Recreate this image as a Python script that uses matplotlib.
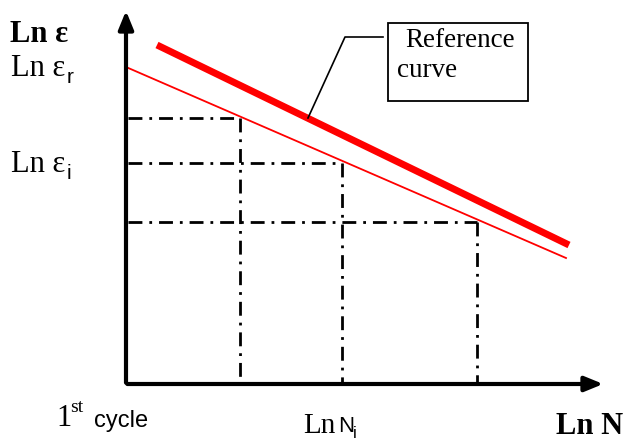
import matplotlib.pyplot as plt

# coordinates measured from the axis origin (x right, y up)
thin_x = [0, 440]
thin_y = [317, 126]
thick_x = [31, 443]
thick_y = [339, 139]

# levels read on the thin curve
level_x = [114, 216, 351]
level_y = [266, 221, 162]

x_end = 480
y_end = 376

fig = plt.figure(figsize=(6.28, 4.43), dpi=100)
ax = fig.add_axes([0, 0, 1, 1])
ax.set_xlim(-126, 502)
ax.set_ylim(-59, 384)
ax.axis("off")

serif = "Liberation Serif"
sans = "Liberation Sans"

# axes with arrows
head = "-|>,head_length=1.1,head_width=0.45"
ax.annotate("", xy=(x_end, 0), xytext=(-1.5, 0),
            arrowprops=dict(arrowstyle=head, lw=3, color="black"))
ax.annotate("", xy=(0, y_end), xytext=(0, -1.5),
            arrowprops=dict(arrowstyle=head, lw=3, color="black"))

# dash-dot guides
for lx, ly in zip(level_x, level_y):
    ax.plot([2, lx], [ly, ly], color="black", lw=2, linestyle=(0, (5, 2.5, 1, 2.5)))
    ax.plot([lx, lx], [ly, 2], color="black", lw=2, linestyle=(0, (5, 2.5, 1, 2.5)))

ax.plot(thin_x, thin_y, color="red", lw=1.3)
ax.plot(thick_x, thick_y, color="red", lw=5, solid_capstyle="butt")

# callout
ax.plot([182, 219, 257], [266, 347, 347], color="black", lw=1.2)
ax.add_patch(plt.Rectangle((262, 283), 140, 78, fill=False, lw=1.3, ec="black"))
ax.text(279, 344, "Reference", fontsize=19.5, family=serif, va="center")
ax.text(271, 314, "curve", fontsize=19.5, family=serif, va="center")

# labels
ax.text(-116, 350, "Ln \u03b5", fontsize=22, family=serif, weight="bold", va="center")
ax.text(-115, 316, "Ln \u03b5", fontsize=22, family=serif, va="center")
ax.text(-59, 307, "r", fontsize=15, family=sans, va="center")
ax.text(-115, 220, "Ln \u03b5", fontsize=22, family=serif, va="center")
ax.text(-59, 211, "i", fontsize=15, family=sans, va="center")

ax.text(-70, -35, "1", fontsize=22, family=serif, va="center")
ax.text(-56, -24, "st", fontsize=14, family=serif, va="center")
ax.text(-32, -37, "cycle", fontsize=17, family=sans, va="center")

ax.text(177, -42, "Ln", fontsize=21, family=serif, va="center")
ax.text(212, -42, "N", fontsize=16, family=sans, va="center")
ax.text(227, -49, "i", fontsize=12, family=sans, va="center")

ax.text(430, -42, "Ln N", fontsize=22, family=serif, weight="bold", va="center")

fig.savefig("out.png", dpi=100)
